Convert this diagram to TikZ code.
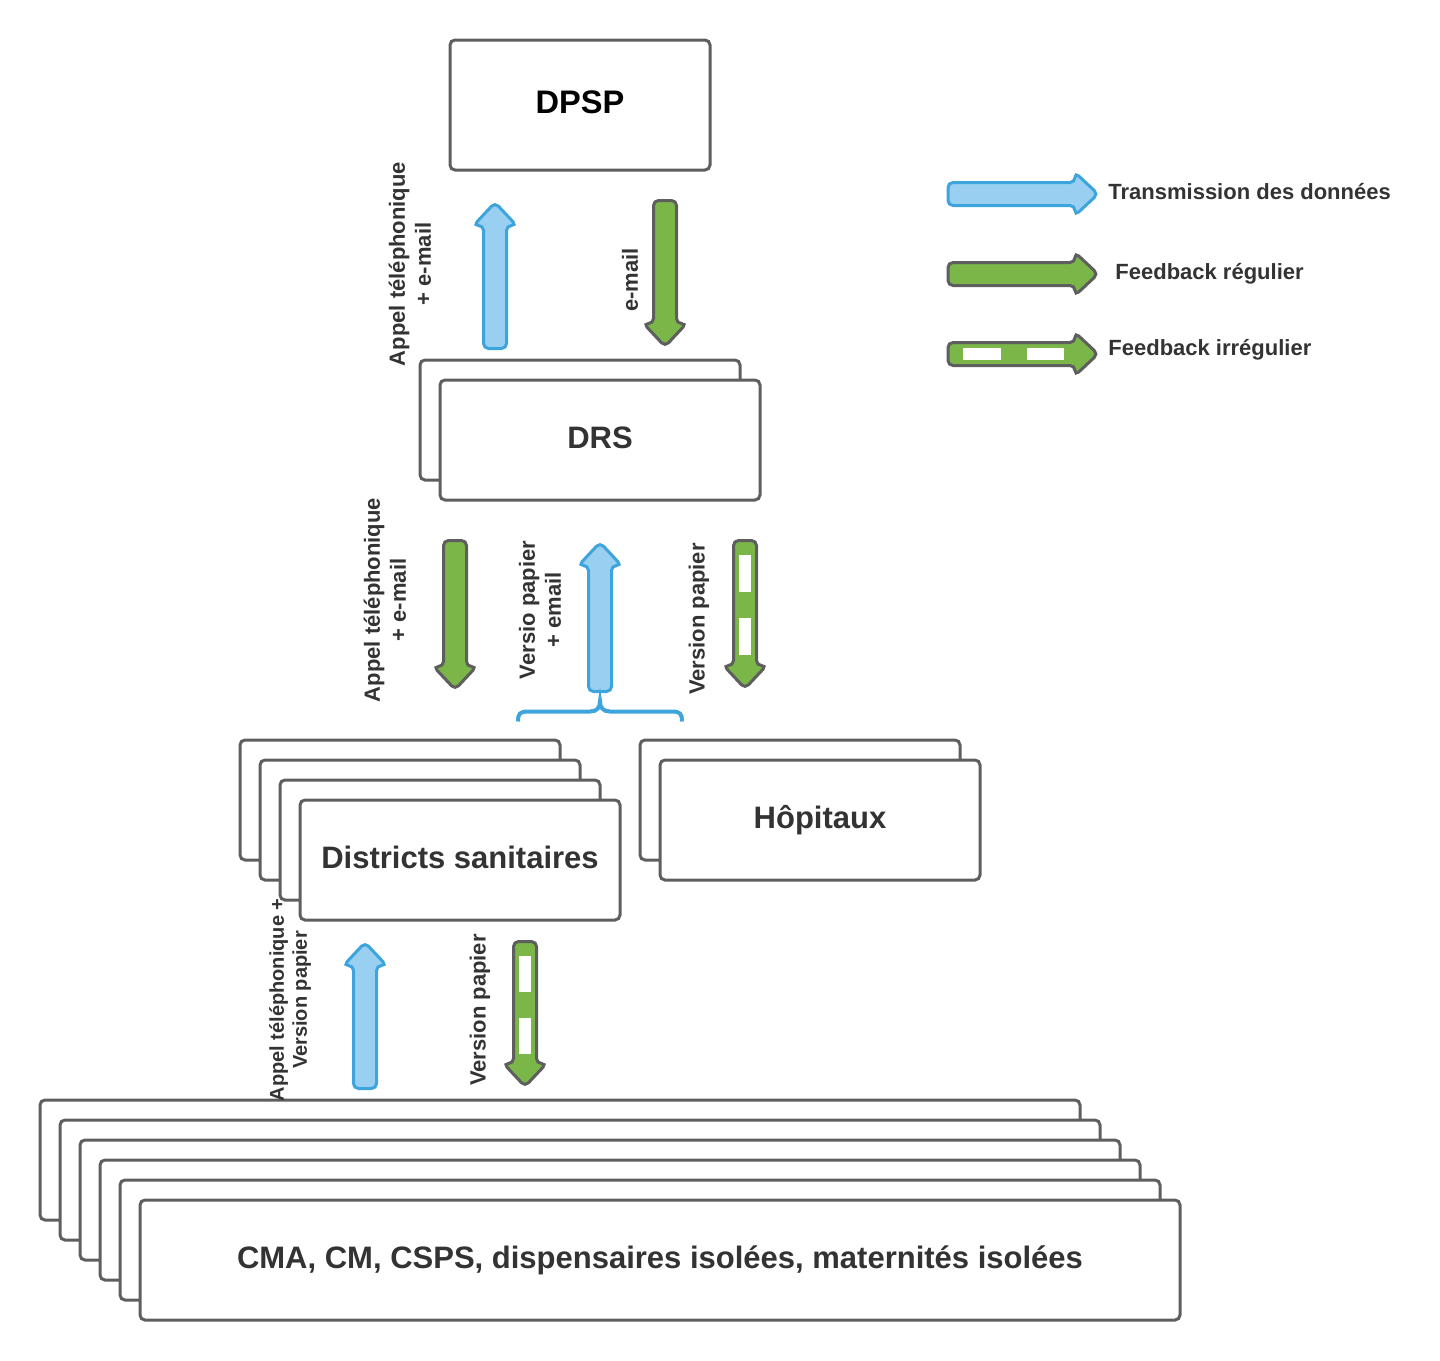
\documentclass[tikz,border=0pt]{standalone}
\usepackage{fontspec}
\setmainfont{Liberation Sans}
\usetikzlibrary{calc}

\definecolor{boxline}{RGB}{94,94,94}
\definecolor{txt}{RGB}{51,51,51}
\definecolor{datafill}{RGB}{153,208,242}
\definecolor{dataline}{RGB}{62,164,220}
\definecolor{fbfill}{RGB}{122,182,72}

\tikzset{
  levelbox/.style={draw=boxline, line width=1.5pt, rounded corners=2.5pt, fill=white,
    minimum width=160pt, minimum height=60pt, inner sep=0pt, text=txt,
    font=\fontsize{15.5}{18}\selectfont\bfseries, text height=11pt, text depth=3pt},
  data/.style={draw=dataline, fill=datafill, line width=1.5pt, rounded corners=2.5pt},
  feedback/.style={draw=boxline, fill=fbfill, line width=1.5pt, rounded corners=2.5pt},
  vlabel/.style={rotate=90, align=center, inner sep=0pt, text=txt,
    font=\fontsize{11}{13}\selectfont\bfseries},
  legendtext/.style={anchor=base west, inner sep=0pt, text=txt,
    font=\fontsize{11}{13}\selectfont\bfseries},
}

% block arrow: style, from, to (tip)
\newcommand{\fatarrow}[3]{%
  \coordinate (fa-s) at #2;
  \coordinate (fa-t) at #3;
  \coordinate (fa-h) at ($(fa-t)!11.5pt!(fa-s)$);
  \draw[#1] ($(fa-s)!5.75pt!90:(fa-t)$) -- ($(fa-h)!5.75pt!-90:(fa-s)$)
    -- ($(fa-h)!10.75pt!-90:(fa-s)$) -- (fa-t)
    -- ($(fa-h)!10.75pt!90:(fa-s)$) -- ($(fa-h)!5.75pt!90:(fa-s)$)
    -- ($(fa-s)!5.75pt!-90:(fa-t)$) -- cycle;
}
% green arrow with two white gaps
\newcommand{\gaparrow}[2]{%
  \fatarrow{feedback}{#1}{#2}
  \draw[white, line width=6pt] ($(fa-s)!0.10!(fa-t)$) -- ($(fa-s)!0.35!(fa-t)$)
    ($(fa-s)!0.525!(fa-t)$) -- ($(fa-s)!0.775!(fa-t)$);
}

\begin{document}
\begin{tikzpicture}[x=0.5pt, y=-0.5pt]
\useasboundingbox (0,0) rectangle (1440,1360);

% levels
\node[levelbox, minimum width=130pt, minimum height=65pt, text=black,
  font=\fontsize{16.3}{19}\selectfont\bfseries] (dpsp) at (580,105) {DPSP};

\node[levelbox] (drs0) at (580,420) {};
\node[levelbox] (drs) at (600,440) {DRS};

\foreach \i in {0,1,2}
  \node[levelbox] (ds\i) at (400+20*\i,800+20*\i) {};
\node[levelbox] (ds) at (460,860) {Districts sanitaires};

\node[levelbox] (hop0) at (800,800) {};
\node[levelbox] (hop) at (820,820) {Hôpitaux};

\foreach \i in {0,...,4}
  \node[levelbox, minimum width=520pt] (cs\i) at (560+20*\i,1160+20*\i) {};
\node[levelbox, minimum width=520pt] (cs) at (660,1260)
  {CMA, CM, CSPS, dispensaires isolées, maternités isolées};

% DPSP / DRS
\fatarrow{data}{($(drs0.north)+(-85,-10)$)}{($(dpsp.south)+(-85,31)$)}
\fatarrow{feedback}{($(dpsp.south)+(85,29)$)}{($(drs0.north)+(85,-12)$)}
\node[vlabel] (l-up1) at (410,264) {Appel téléphonique\\+ e-mail};
\node[vlabel] (l-down1) at (630,280) {e-mail};

% DRS / districts, hopitaux
\fatarrow{feedback}{($(drs.south)+(-145,39)$)}{($(drs.south)+(-145,188)$)}
\fatarrow{data}{($(drs.south)+(0,190)$)}{($(drs.south)+(0,41)$)}
\gaparrow{($(drs.south)+(145,39)$)}{($(drs.south)+(145,187)$)}
\node[vlabel] (l-down2) at (385,600) {Appel téléphonique\\+ e-mail};
\node[vlabel] (l-up2) at (540,610) {Versio papier\\+ email};
\node[vlabel] (l-gap2) at (699,619) {Version papier};

\coordinate (brace) at ($(drs.south)+(0,200)$);
\begin{scope}[shift={(brace)}]
\draw[dataline, line width=2pt] (-82,20) .. controls (-82,12) and (-80,10) .. (-72,10)
  -- (-10,10) .. controls (-3,10) and (0,6) .. (0,0)
  .. controls (0,6) and (3,10) .. (10,10) -- (72,10)
  .. controls (80,10) and (82,12) .. (82,20);
\end{scope}

% districts / CMA
\fatarrow{data}{($(cs0.north)+(-195,-10)$)}{($(ds.south)+(-95,21)$)}
\gaparrow{($(ds.south)+(65,20)$)}{($(cs0.north)+(-35,-12)$)}
\node[vlabel, font=\fontsize{10}{11.5}\selectfont\bfseries] (l-up3) at (290,1000)
  {Appel téléphonique +\\Version papier};
\node[vlabel] (l-gap3) at (480,1010) {Version papier};

% legend
\fatarrow{data}{(948,194)}{(1098,194)}
\node[legendtext] (t-data) at (1108,199) {Transmission des données};
\fatarrow{feedback}{(948,274)}{(1098,274)}
\node[legendtext] (t-reg) at (1115,279) {Feedback régulier};
\gaparrow{(948,354)}{(1098,354)}
\node[legendtext] (t-irr) at (1108,355) {Feedback irrégulier};

\end{tikzpicture}
\end{document}
